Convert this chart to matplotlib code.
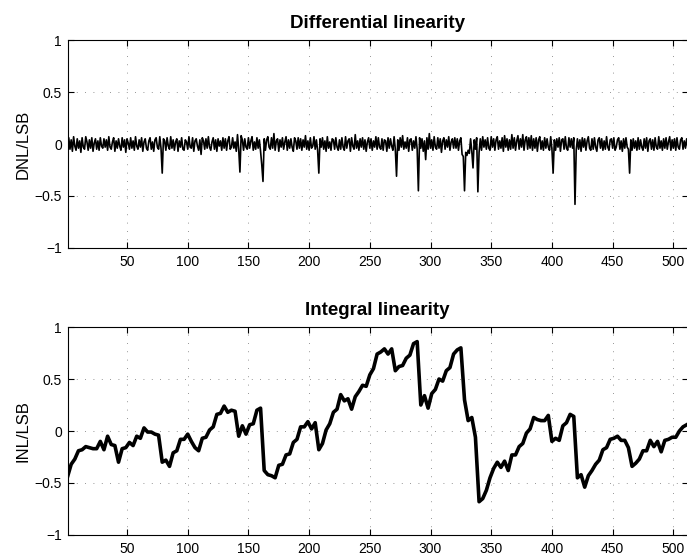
import numpy as np
import matplotlib
matplotlib.use("Agg")
import matplotlib.pyplot as plt

plt.rcParams['font.family'] = ['Liberation Sans', 'DejaVu Sans']

# DNL per code, in hundredths of an LSB (codes 1..512)
dnl_centi = [
    -3, 6, -5, 4, -7, 7, -2, -6, 5, -4, 3, -8, 6, -3, -5, 7, 2, -6, 4, -4, 6, -7, 1, 5, -5, 3, -6, 6, -2, -4, 5, -3,
    4, -6, 7, -3, -5, 2, 6, -7, 3, -4, 5, -2, -6, 6, -3, 4, -8, 5, 1, -5, 6, -4, 3, -6, 7, -2, -5, 4, -3, 6, -7, 2,
    5, -4, -6, 3, 6, -5, 2, -7, 4, 6, -3, -5, 7, -4, -28, 5, 3, -6, 6, -2, -5, 7, -4, 4, -6, 2, 5, -7, 3, -3, 6, -5,
    -6, 4, 2, -5, 7, -3, -4, 6, -7, 3, 5, -2, -6, 4, -10, 6, 3, -5, 5, -4, 7, -3, -6, 2, 6, -5, 4, -7, 5, -2, 3, -6,
    6, -4, 5, -6, 3, 7, -5, -3, 6, -4, 2, -7, 9, -5, -27, 8, 4, -6, 5, -3, -5, 6, -4, 3, 7, -6, 2, -5, 6, -4, 4, -7,
    -20, -36, 5, -6, 4, 7, -3, -5, 6, -4, 10, -6, 3, 5, -7, 4, -3, 6, -5, 2, 7, -6, 4, -4, 5, -3, -7, 6, 3, -5, 6, -4,
    5, -6, 4, -3, 8, -5, 3, -6, 6, -4, -2, 7, -5, 4, -6, -28, 5, -3, 6, -5, 3, -7, 7, -4, 2, -6, 5, 4, -5, 6, -3, -6,
    4, -5, 6, -3, -6, 7, -4, 3, 5, -7, 6, -2, -5, 9, -4, 3, -6, 5, -3, 6, -5, 4, -7, 2, 6, -4, 5, -6, 3, -3, 7, -5,
    6, -3, -5, 5, -6, 4, 3, -7, 6, -4, 5, -2, -6, 7, -5, -31, 4, -6, 6, -3, 8, -5, 2, -4, 6, -7, 4, 5, -6, 3, -4, 7,
    -5, -45, 6, -4, 5, -7, 3, -15, 6, -5, 10, -4, 4, -6, 7, -3, -5, 6, -4, 5, -8, 3, 6, -5, 4, -3, 7, -6, 2, 5, -4, 6,
    -4, 5, -6, 3, 6, -10, -12, -45, -8, -11, -6, -9, 5, -7, -23, 4, -5, 6, -46, -8, 5, -6, 7, -3, 4, -5, 6, -4, -6, 7, -3, 5,
    -6, 4, 7, -5, 3, -4, 6, -7, 8, -3, 5, -6, 4, -5, 9, -4, 6, -6, 3, 8, -5, 5, -3, 9, -6, 4, 7, -5, 6, -4, 8, -6,
    5, -4, 6, -7, 4, 7, -5, 3, -6, 6, -4, 5, -3, -6, 7, -5, -28, 4, -6, 5, -3, 6, -7, 4, 5, -5, 7, -4, -6, 6, -3, 5,
    -4, 6, -58, -6, 5, -5, 4, -7, 6, -3, 5, -6, 3, 7, -4, -6, 5, -5, 6, -3, -7, 4, 6, -4, 5, -6, 3, -5, 7, -3, -6, 4,
    5, -4, 6, -6, -3, 4, 6, -5, 3, -7, 5, -4, 6, -3, -5, -28, 4, -6, 5, -4, 3, -6, 6, -5, 4, -3, -6, 5, -4, 6, -7, 3,
    5, -5, 4, -6, 6, -3, -5, 7, -4, 3, -6, 5, -4, 6, -5, 2, 7, -6, 4, -4, 5, -6, 6, -3, -5, 4, 6, -5, 3, -4, 5, -3,
]

# INL read every 3rd code (codes 1, 4, 7, ... 511), in LSB
inl_vals = [
    -0.44, -0.32, -0.27, -0.19, -0.18, -0.15, -0.16, -0.17, -0.17, -0.10,
    -0.18, -0.05, -0.13, -0.14, -0.30, -0.17, -0.16, -0.11, -0.14, -0.05,
    -0.07, 0.03, -0.01, -0.01, -0.03, -0.04, -0.30, -0.28, -0.34, -0.21,
    -0.19, -0.08, -0.08, -0.03, -0.10, -0.16, -0.19, -0.07, -0.06, 0.01,
    0.04, 0.16, 0.17, 0.24, 0.18, 0.20, 0.19, -0.05, 0.05, -0.03,
    0.06, 0.07, 0.20, 0.22, -0.38, -0.42, -0.43, -0.45, -0.33, -0.32,
    -0.23, -0.22, -0.11, -0.08, 0.04, 0.04, 0.09, 0.02, 0.08, -0.18,
    -0.12, 0.01, 0.07, 0.18, 0.21, 0.35, 0.29, 0.31, 0.21, 0.33,
    0.38, 0.44, 0.43, 0.54, 0.60, 0.74, 0.76, 0.79, 0.74, 0.79,
    0.58, 0.62, 0.63, 0.70, 0.73, 0.84, 0.86, 0.25, 0.34, 0.22,
    0.36, 0.40, 0.50, 0.48, 0.58, 0.61, 0.74, 0.78, 0.80, 0.30,
    0.10, 0.13, -0.06, -0.68, -0.65, -0.57, -0.45, -0.36, -0.30, -0.35,
    -0.29, -0.38, -0.23, -0.23, -0.15, -0.12, -0.02, 0.02, 0.13, 0.11,
    0.10, 0.10, 0.15, -0.10, -0.07, -0.09, 0.05, 0.08, 0.16, 0.14,
    -0.45, -0.42, -0.54, -0.43, -0.38, -0.32, -0.28, -0.18, -0.16, -0.08,
    -0.07, -0.05, -0.09, -0.09, -0.16, -0.34, -0.31, -0.27, -0.19, -0.19,
    -0.09, -0.15, -0.10, -0.20, -0.09, -0.08, -0.06, -0.06, 0.00, 0.04,
    0.06,
]

x_ticks = [50, 100, 150, 200, 250, 300, 350, 400, 450, 500]
y_ticks = [-1, -0.5, 0, 0.5, 1]
y_labels = ['\u22121', '\u22120.5', '0', '0.5', '1']

dnl = np.array(dnl_centi) / 100.0
dnl_codes = np.arange(1, len(dnl) + 1)
inl = np.array(inl_vals)
inl_codes = np.arange(1, 3 * len(inl), 3)

fig = plt.figure(figsize=(6.87, 5.56), dpi=100)
ax1 = fig.add_axes([0.0983, 0.554, 0.903, 0.374])
ax2 = fig.add_axes([0.0983, 0.0378, 0.903, 0.374])


def style(ax, title, ylabel):
    ax.set_xlim(1, 512)
    ax.set_ylim(-1, 1)
    ax.set_xticks(x_ticks)
    ax.set_yticks(y_ticks)
    ax.set_yticklabels(y_labels)
    ax.tick_params(direction='in', length=4, width=0.8, labelsize=10,
                   top=True, right=True)
    ax.tick_params(axis='x', pad=5)
    ax.tick_params(axis='y', pad=4)
    ax.grid(True, linestyle=(0, (1, 9)), color='0.45', linewidth=0.6)
    ax.set_title(title, fontsize=13.5, fontweight='bold', pad=9)
    ax.set_ylabel(ylabel, fontsize=12, labelpad=3)
    for s in ax.spines.values():
        s.set_linewidth(0.8)


ax1.plot(dnl_codes, dnl, color='black', linewidth=1.2)
style(ax1, 'Differential linearity', 'DNL/LSB')

ax2.plot(inl_codes, inl, color='black', linewidth=2.6)
style(ax2, 'Integral linearity', 'INL/LSB')

fig.savefig('out.png', dpi=100)
